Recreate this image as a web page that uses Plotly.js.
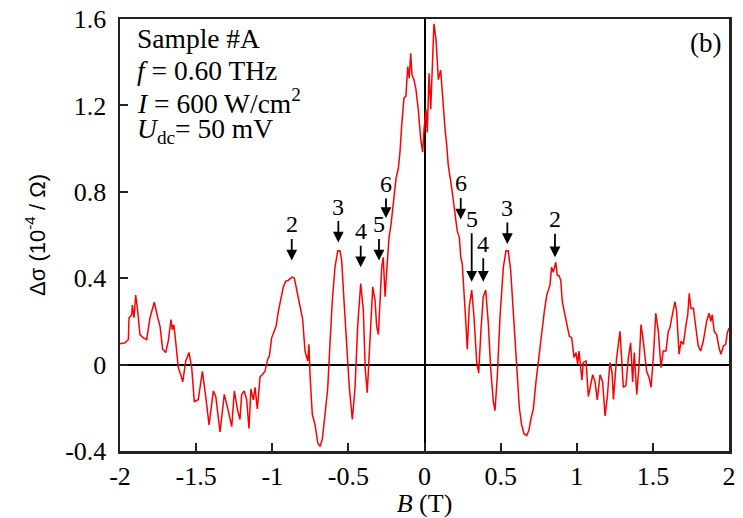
<!DOCTYPE html>
<html>
<head>
<meta charset="utf-8">
<script src="https://cdn.plot.ly/plotly-3.0.1.min.js"></script>
<style>html,body{margin:0;padding:0;background:#fff;}#chart{width:743px;height:518px;}</style>
</head>
<body>
<div id="chart"></div>
<script>
// Magnetic field B (T)
const B = [
-2.000,-1.967,-1.945,-1.941,-1.923,-1.919,-1.908,-1.897,-1.886,-1.869,-1.847,-1.825,-1.803,-1.775,-1.752,-1.737,-1.720,-1.700,-1.683,-1.665,-1.656,-1.647,-1.639,-1.617,-1.601,-1.588,-1.568,-1.547,-1.529,-1.512,-1.486,-1.459,-1.437,-1.415,-1.387,-1.371,-1.343,-1.315,-1.289,-1.266,-1.249,
-1.227,-1.212,-1.201,-1.184,-1.168,-1.153,-1.140,-1.124,-1.113,-1.098,-1.080,-1.065,-1.048,-1.030,-1.019,-1.004,
-0.988,-0.975,-0.960,-0.943,-0.927,-0.912,-0.895,-0.883,-0.868,-0.855,-0.839,-0.824,-0.811,-0.800,
-0.785,-0.767,-0.759,-0.752,-0.737,-0.719,-0.701,-0.686,-0.671,-0.654,-0.636,-0.621,-0.606,-0.588,-0.570,-0.555,-0.544,
-0.529,-0.511,-0.494,-0.474,-0.456,-0.439,-0.419,-0.402,-0.389,-0.376,-0.358,-0.340,-0.325,-0.314,-0.303,-0.292,-0.281,-0.271,-0.259,-0.248,
-0.233,-0.220,-0.200,-0.187,-0.172,-0.161,-0.150,-0.135,-0.122,-0.110,-0.100,-0.091,-0.082,-0.069,-0.056,-0.041,-0.025,-0.012,-0.003,
0.010,0.018,0.030,0.041,0.051,0.062,0.076,0.091,0.106,0.120,0.135,0.146,0.156,0.179,0.200,0.215,0.229,0.238,0.248,0.259,
0.273,0.281,0.294,0.310,0.325,0.343,0.356,0.371,0.386,0.402,0.419,0.435,0.452,0.463,0.478,0.496,0.518,0.535,0.550,0.566,0.583,
0.606,0.623,0.638,0.654,0.671,0.686,0.698,0.715,0.732,0.754,0.770,0.787,0.803,0.813,0.824,0.835,0.846,0.862,0.872,0.883,0.895,0.905,
0.923,0.938,0.951,0.967,0.982,0.995,1.006,1.015,1.026,1.034,1.043,1.061,1.076,1.092,1.105,1.120,1.135,1.153,1.170,1.186,1.201,1.218,
1.232,1.241,1.261,1.284,1.306,1.323,1.339,1.354,1.367,1.378,1.394,1.409,1.422,1.437,1.459,1.477,1.488,1.503,1.519,1.536,1.553,
1.568,1.586,1.601,1.612,1.630,1.645,1.656,1.672,1.685,1.700,1.718,1.729,1.739,1.750,1.766,1.783,1.798,1.814,1.831,1.853,1.869,1.880,1.890,1.903,1.919,1.934,1.947,1.963,1.978,1.989,2.000
];
// Conductivity change, units of 1e-4 / Ohm
const dSigma = [
0.097,0.101,0.116,0.216,0.231,0.276,0.217,0.322,0.263,0.139,0.124,0.116,0.217,0.289,0.217,0.177,0.071,0.056,0.109,0.208,0.162,0.185,0.139,-0.014,-0.047,-0.080,0.017,0.056,-0.014,-0.171,-0.163,-0.031,-0.147,-0.279,-0.122,-0.147,-0.312,-0.138,-0.213,-0.287,-0.122,
-0.213,-0.254,-0.138,-0.122,-0.163,-0.296,-0.113,-0.163,-0.105,-0.205,-0.056,-0.047,-0.031,0.025,0.040,0.124,
0.154,0.177,0.246,0.307,0.360,0.386,0.390,0.398,0.405,0.401,0.345,0.291,0.246,0.208,
0.063,0.017,0.094,-0.047,-0.230,-0.279,-0.362,-0.379,-0.345,-0.246,-0.113,0.094,0.291,0.451,0.527,0.527,0.482,
0.299,0.101,-0.105,-0.254,-0.105,0.177,0.375,0.253,-0.022,-0.130,0.101,0.360,0.299,0.177,0.139,0.284,0.451,0.497,0.314,0.436,
0.588,0.649,0.771,0.862,0.908,0.984,1.106,1.235,1.243,1.380,1.326,1.441,1.342,1.319,1.273,1.182,1.045,0.984,1.090,
1.182,1.075,1.349,1.182,1.395,1.578,1.501,1.319,1.364,1.212,1.090,1.015,0.923,0.816,0.710,0.619,0.588,0.497,0.467,0.360,
0.177,0.071,0.268,0.345,0.223,0.010,-0.039,0.162,0.314,0.345,0.193,-0.022,-0.171,-0.213,-0.056,0.223,0.451,0.527,0.527,0.436,0.253,
-0.045,-0.200,-0.279,-0.320,-0.329,-0.304,-0.254,-0.205,-0.080,0.063,0.139,0.246,0.322,0.345,0.368,0.451,0.428,0.474,0.413,0.413,0.390,0.291,
0.231,0.170,0.132,0.124,0.033,0.056,0.002,0.063,-0.014,-0.072,0.010,0.017,-0.147,-0.097,-0.047,-0.080,-0.163,-0.047,-0.080,-0.238,-0.147,0.010,
-0.037,-0.161,0.025,0.154,-0.105,-0.097,0.033,0.101,-0.080,0.056,-0.138,-0.006,0.185,0.109,-0.031,-0.064,-0.105,0.033,0.238,0.154,-0.014,
0.063,0.063,0.154,0.170,0.238,0.291,0.246,0.048,0.109,0.094,0.185,0.231,0.330,0.261,0.261,0.170,0.086,0.063,0.109,0.200,0.238,0.200,0.231,0.154,0.139,0.079,0.048,0.086,0.094,0.147,0.170
];

// Tick labels
const xTickVals = [-2, -1.5, -1, -0.5, 0, 0.5, 1, 1.5, 2];
const xTickText = ["-2", "-1.5", "-1", "-0.5", "0", "0.5", "1", "1.5", "2"];
const yTickVals = [-0.4, 0, 0.4, 0.8, 1.2, 1.6];
const yTickText = ["-0.4", "0", "0.4", "0.8", "1.2", "1.6"];

// Landau-level markers: label, B position, value at arrow tip
const markLabels = ["2", "3", "4", "5", "6", "6", "5", "4", "3", "2"];
const markB      = [-0.872, -0.566, -0.419, -0.299, -0.253, 0.238, 0.310, 0.386, 0.544, 0.857];
const markTip    = [0.482, 0.565, 0.451, 0.482, 0.679, 0.672, 0.383, 0.383, 0.558, 0.497];
const markLen    = [36, 36, 36, 36, 34, 36, 63, 38, 36, 38];

// Info box lines
const infoLines = ["Sample #A", "<i>f</i> = 0.60 THz", "<i>I</i> = 600 W/cm<sup>2</sup>", "<i>U</i><sub>dc</sub>= 50 mV"];
const infoY = [0.956, 0.881, 0.809, 0.742];

const serif = "Liberation Serif, Times New Roman, serif";

const annotations = [];
for (let i = 0; i < markLabels.length; i++) {
  annotations.push({
    x: markB[i], y: markTip[i], xref: "x", yref: "y",
    text: markLabels[i], showarrow: true, ax: 0, ay: -markLen[i],
    arrowhead: 2, arrowsize: 1.2, arrowwidth: 1.8, arrowcolor: "#000",
    font: {family: serif, size: 24, color: "#000"}
  });
}
for (let i = 0; i < infoLines.length; i++) {
  annotations.push({
    x: 0.0246, y: infoY[i], xref: "paper", yref: "paper",
    xanchor: "left", yanchor: "middle", showarrow: false,
    text: infoLines[i], font: {family: serif, size: 27.5, color: "#000"}
  });
}
annotations.push({
  x: 0.962, y: 0.944, xref: "paper", yref: "paper",
  xanchor: "center", yanchor: "middle", showarrow: false,
  text: "(b)", font: {family: serif, size: 27, color: "#000"}
});

const trace = {
  x: B, y: dSigma, type: "scatter", mode: "lines",
  line: {color: "#ff0000", width: 1.5}, hoverinfo: "skip"
};

const layout = {
  width: 743, height: 518,
  margin: {l: 120, r: 14, t: 19, b: 67},
  paper_bgcolor: "#fff", plot_bgcolor: "#fff",
  showlegend: false,
  xaxis: {
    range: [-2, 2], tickvals: xTickVals, ticktext: xTickText,
    showgrid: false, zeroline: true, zerolinecolor: "#000", zerolinewidth: 2,
    showline: true, linecolor: "#222", linewidth: 2.5, mirror: true,
    ticks: "inside", ticklen: 8, tickwidth: 2, tickcolor: "#222",
    ticklabelstandoff: 0,
    tickfont: {family: serif, size: 26, color: "#000"},
    title: {text: "<i>B</i> (T)", font: {family: serif, size: 26, color: "#000"}, standoff: 4}
  },
  yaxis: {
    range: [-0.4, 1.6], tickvals: yTickVals, ticktext: yTickText,
    showgrid: false, zeroline: true, zerolinecolor: "#000", zerolinewidth: 2,
    showline: true, linecolor: "#222", linewidth: 2.5, mirror: true,
    ticks: "inside", ticklen: 8, tickwidth: 2, tickcolor: "#222",
    ticklabelstandoff: 6,
    tickfont: {family: serif, size: 26, color: "#000"},
    title: {text: "Δσ (10<sup>-4</sup> / Ω)", font: {family: "Liberation Sans, Arial, sans-serif", size: 22, color: "#000"}, standoff: 14}
  },
  annotations: annotations
};

Plotly.newPlot("chart", [trace], layout, {displayModeBar: false, staticPlot: true});
</script>
</body>
</html>
